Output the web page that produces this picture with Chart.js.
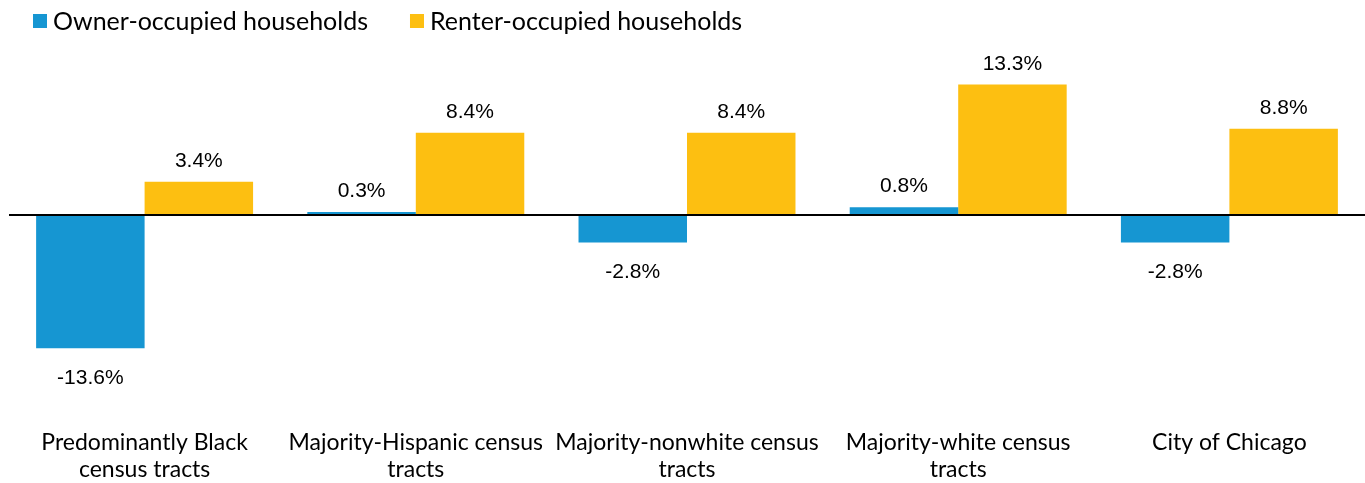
<!DOCTYPE html>
<html>
<head>
<meta charset="utf-8">
<script src="https://cdn.jsdelivr.net/npm/chart.js@4/dist/chart.umd.min.js"></script>
<style>
html,body{margin:0;padding:0;background:#fff;}
#wrap{width:1365px;height:483px;position:relative;}
</style>
</head>
<body>
<div id="wrap"><canvas id="c"></canvas></div>
<script>
const categories = [
  ["Predominantly Black", "census tracts"],
  ["Majority-Hispanic census", "tracts"],
  ["Majority-nonwhite census", "tracts"],
  ["Majority-white census", "tracts"],
  ["City of Chicago"]
];
const ownerValues = [-13.6, 0.3, -2.8, 0.8, -2.8];
const renterValues = [3.4, 8.4, 8.4, 13.3, 8.8];
const seriesNames = ["Owner-occupied households", "Renter-occupied households"];
const seriesColors = ["#1696d2", "#fdbf11"];

const zeroLine = {
  id: 'zeroLine',
  afterDatasetsDraw(chart) {
    const {ctx, chartArea, scales} = chart;
    const y = scales.y.getPixelForValue(0);
    ctx.save();
    ctx.strokeStyle = '#000';
    ctx.lineWidth = 2;
    ctx.beginPath();
    ctx.moveTo(chartArea.left, y);
    ctx.lineTo(chartArea.right, y);
    ctx.stroke();
    ctx.restore();
  }
};

const dataLabels = {
  id: 'dataLabels',
  afterDatasetsDraw(chart) {
    const ctx = chart.ctx;
    ctx.save();
    ctx.font = '21px "Liberation Sans", Arial, sans-serif';
    ctx.fillStyle = '#000';
    ctx.textAlign = 'center';
    ctx.textBaseline = 'alphabetic';
    chart.data.datasets.forEach((ds, i) => {
      const meta = chart.getDatasetMeta(i);
      meta.data.forEach((bar, j) => {
        const v = ds.data[j];
        const y = v >= 0 ? bar.y - 15 : bar.y + 36;
        ctx.fillText(v.toFixed(1) + '%', bar.x, y);
      });
    });
    ctx.restore();
  }
};

const topLegend = {
  id: 'topLegend',
  afterDraw(chart) {
    const ctx = chart.ctx;
    ctx.save();
    ctx.font = '25px Lato';
    ctx.textBaseline = 'alphabetic';
    ctx.textAlign = 'left';
    let x = 33;
    chart.data.datasets.forEach((ds) => {
      ctx.fillStyle = ds.backgroundColor;
      ctx.fillRect(x, 14, 14, 14);
      ctx.fillStyle = '#000';
      const tx = x + 20;
      ctx.fillText(ds.label, tx, 30);
      x = tx + ctx.measureText(ds.label).width + 42;
    });
    ctx.restore();
  }
};

new Chart(document.getElementById('c'), {
  type: 'bar',
  data: {
    labels: categories,
    datasets: [
      { label: seriesNames[0], data: ownerValues, backgroundColor: seriesColors[0] },
      { label: seriesNames[1], data: renterValues, backgroundColor: seriesColors[1] }
    ]
  },
  options: {
    responsive: true,
    maintainAspectRatio: false,
    animation: false,
    layout: { padding: { left: 9, right: 0, top: 41, bottom: 0 } },
    datasets: { bar: { categoryPercentage: 0.8, barPercentage: 1.0 } },
    plugins: {
      legend: { display: false },
      tooltip: { enabled: false }
    },
    scales: {
      x: {
        grid: { display: false, drawTicks: false },
        border: { display: false },
        ticks: {
          color: '#000',
          font: { family: 'Lato', size: 23, lineHeight: 1.17 },
          maxRotation: 0,
          autoSkip: false,
          padding: 18
        },
        afterFit(scale) { scale.height = 72; }
      },
      y: {
        display: false,
        min: -20,
        max: 17.75
      }
    }
  },
  plugins: [zeroLine, dataLabels, topLegend]
});
</script>
</body>
</html>
